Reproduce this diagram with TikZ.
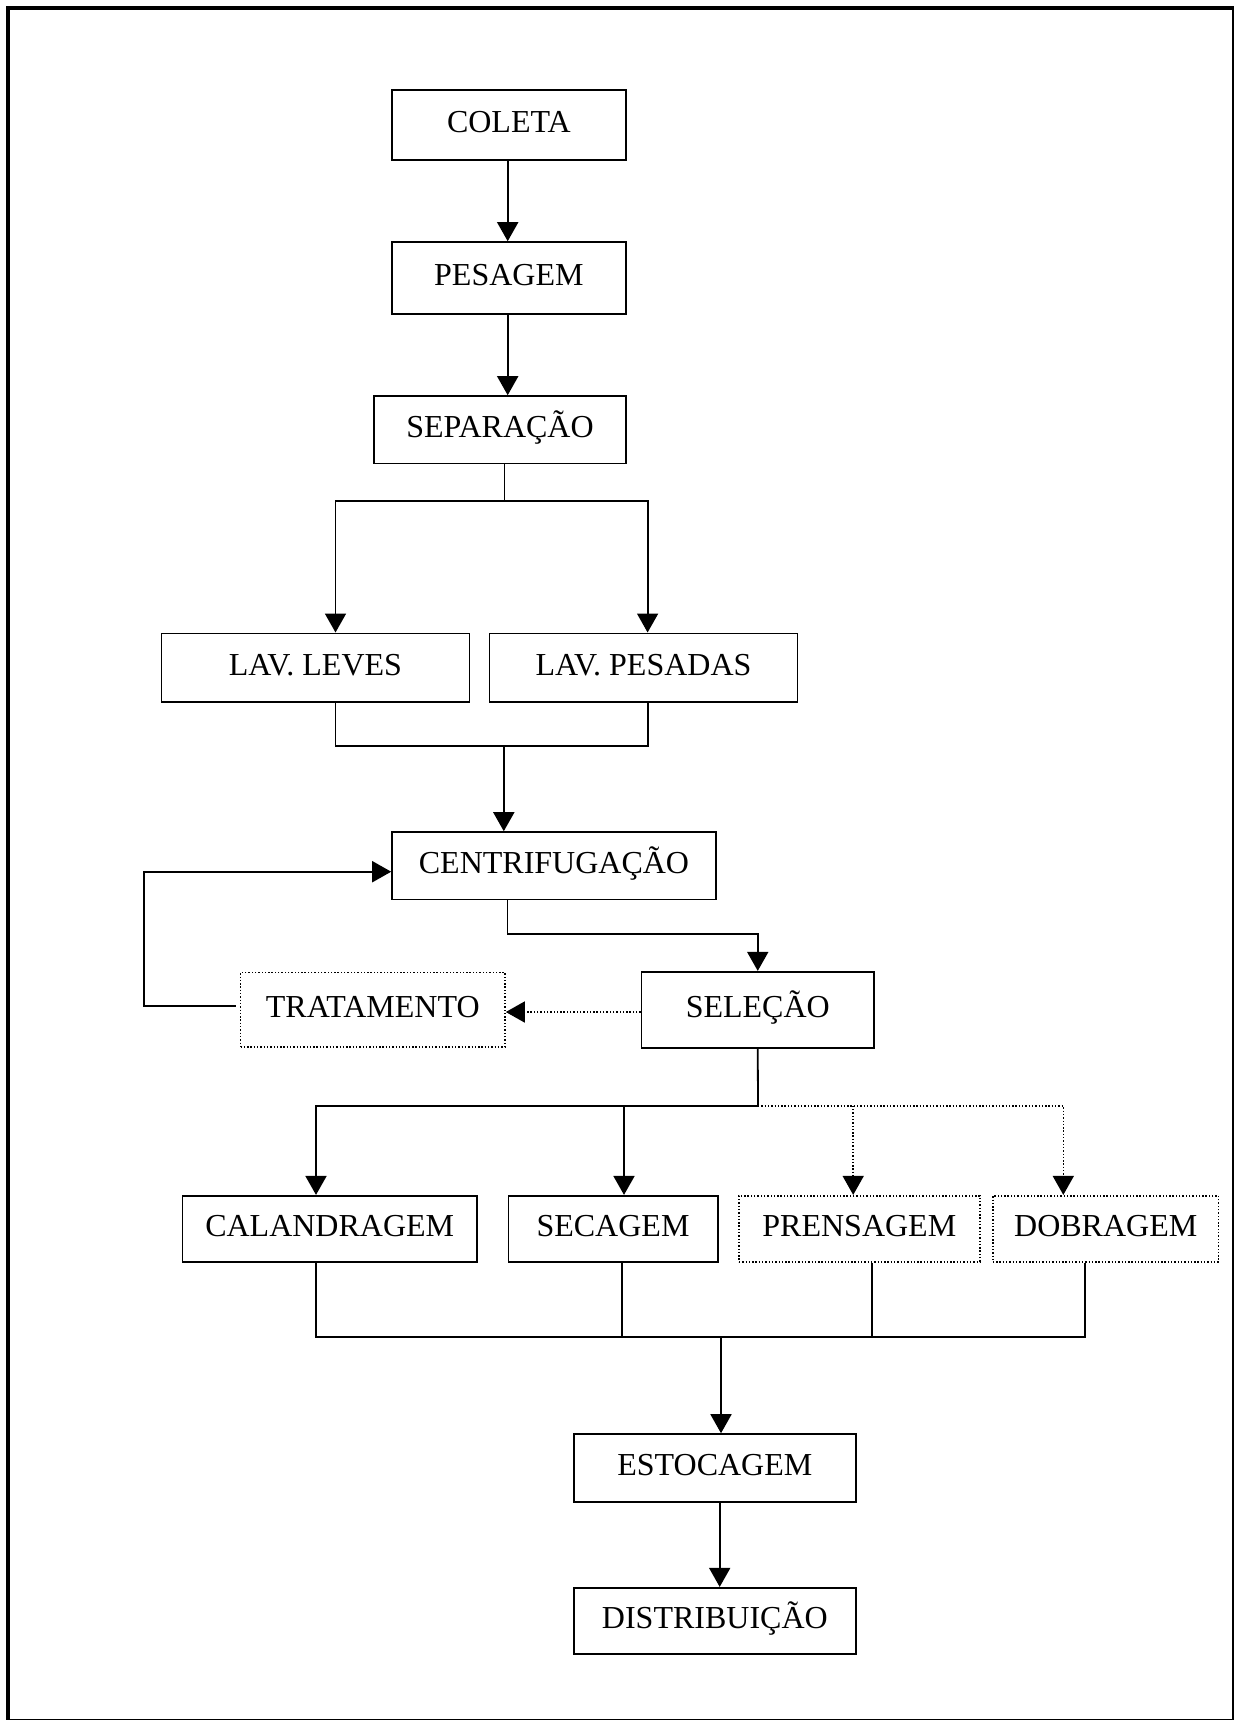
\documentclass[tikz,border=0pt]{standalone}
\usepackage{fontspec}
\setmainfont{Liberation Serif}
\usetikzlibrary{arrows.meta,calc}
\begin{document}
\begin{tikzpicture}[x=0.5pt,y=-0.5pt,
  box/.style={draw,line width=0.8pt,inner sep=0pt,text height=10.6pt,text depth=3pt,
    font=\fontsize{16}{19}\selectfont},
  dotbox/.style={box,dash pattern=on 0.7pt off 0.95pt},
  link/.style={line width=0.9pt},
  arr/.style={link,-{Triangle[length=9.5pt,width=10.5pt]}},
  dotlink/.style={line width=0.8pt,dash pattern=on 0.7pt off 0.95pt},
  dotarr/.style={dotlink,-{Triangle[length=9.5pt,width=10.5pt]}}]

\useasboundingbox (0,0) rectangle (1233,1720);
% page frame
\draw[line width=2pt] (8,7.5) rectangle (1233.5,1721);

% process steps
\node[box,minimum width=117.15pt,minimum height=34.85pt] (coleta) at (508.85,124.85) {COLETA};
\node[box,minimum width=117.15pt,minimum height=36pt] (pesagem) at (508.85,278) {PESAGEM};
\node[box,minimum width=126pt,minimum height=33.65pt] (separacao) at (500,429.65) {SEPARAÇÃO};
\node[box,minimum width=154pt,minimum height=34.2pt] (lavleves) at (315.45,667.5) {LAV. LEVES};
\node[box,minimum width=154pt,minimum height=34.2pt] (lavpesadas) at (643.55,667.5) {LAV. PESADAS};
\node[box,minimum width=162pt,minimum height=33.75pt] (centrif) at (554,865.75) {CENTRIFUGAÇÃO};
\node[dotbox,minimum width=132.25pt,minimum height=37.1pt] (tratamento) at (372.75,1009.6) {TRATAMENTO};
\node[box,minimum width=116.25pt,minimum height=38pt] (selecao) at (757.75,1009.7) {SELEÇÃO};
\node[box,minimum width=147.1pt,minimum height=33pt] (calandragem) at (329.7,1228.7) {CALANDRAGEM};
\node[box,minimum width=104.7pt,minimum height=33pt] (secagem) at (613,1228.7) {SECAGEM};
\node[dotbox,minimum width=120.45pt,minimum height=33pt] (prensagem) at (859.35,1228.7) {PRENSAGEM};
\node[dotbox,minimum width=112.9pt,minimum height=33pt] (dobragem) at (1105.7,1228.7) {DOBRAGEM};
\node[box,minimum width=141.15pt,minimum height=34pt] (estocagem) at (714.85,1468) {ESTOCAGEM};
\node[box,minimum width=141.15pt,minimum height=33pt] (distribuicao) at (714.85,1620.7) {DISTRIBUIÇÃO};

% main line
\coordinate (xa) at (507.7,0);
\draw[arr] (xa |- coleta.south) -- (xa |- pesagem.north);
\draw[arr] (xa |- pesagem.south) -- (xa |- separacao.north);

% split into the two washers
\coordinate (sp) at (504.4,501);
\coordinate (xl) at (335.5,0);
\coordinate (xr) at (647.6,0);
\draw[link] (separacao.south -| sp) -- (sp);
\draw[arr] (sp) -| (xl |- lavleves.north);
\draw[arr] (sp) -| (xr |- lavpesadas.north);

% merge after washing
\coordinate (mg) at (503.8,745.7);
\draw[link] (xl |- lavleves.south) |- (mg);
\draw[link] (xr |- lavpesadas.south) |- (mg);
\draw[arr] (mg) -- (mg |- centrif.north);

% rework loop
\coordinate (lpb) at (143.7,1005.7);
\coordinate (lpt) at (143.7,871.7);
\draw[arr] ($(tratamento.west |- lpb)+(-4,0)$) -- (lpb) -- (lpt) -- (lpt -| centrif.west);

% centrifuge to selection
\coordinate (cs) at (507.4,934);
\draw[arr] (cs |- centrif.south) -- (cs) -| (selecao.north);

% selection to treatment
\coordinate (dt) at (0,1012);
\draw[dotarr] (selecao.west |- dt) -- (tratamento.east |- dt);

% finishing branches
\coordinate (bs) at (758,1105.7);
\coordinate (x1) at (316,0);
\coordinate (x2) at (624,0);
\coordinate (x3) at (853.2,0);
\coordinate (x4) at (1063.3,0);
\draw[link] (selecao.south) -- (bs);
\draw[arr] (bs) -| (x1 |- calandragem.north);
\draw[arr] (x2 |- bs) -- (x2 |- secagem.north);
\draw[dotarr] (bs) -| (x4 |- dobragem.north);
\draw[dotarr] (x3 |- bs) -- (x3 |- prensagem.north);

% collection to storage
\coordinate (cb) at (721,1337.3);
\coordinate (y2) at (622,0);
\coordinate (y3) at (871.7,0);
\coordinate (y4) at (1085.2,0);
\draw[link] (x1 |- calandragem.south) |- (cb);
\draw[link] (y4 |- dobragem.south) |- (cb);
\draw[link] (y2 |- secagem.south) -- (y2 |- cb);
\draw[link] (y3 |- prensagem.south) -- (y3 |- cb);
\draw[arr] (cb) -- (cb |- estocagem.north);
\coordinate (ed) at (719.7,0);
\draw[arr] (ed |- estocagem.south) -- (ed |- distribuicao.north);
\end{tikzpicture}
\end{document}
